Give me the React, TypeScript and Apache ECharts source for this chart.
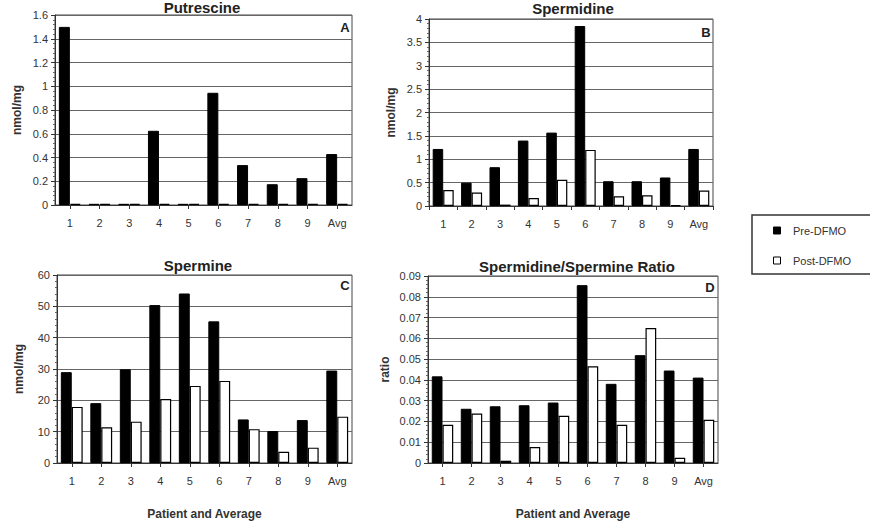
import React, { useEffect, useRef } from "react";
import * as echarts from "echarts";

const categories = ["1", "2", "3", "4", "5", "6", "7", "8", "9", "Avg"];

const putrescinePre = [1.5, 0.01, 0.01, 0.625, 0.01, 0.945, 0.336, 0.175, 0.226, 0.429];
const putrescinePost = [0.01, 0.01, 0.01, 0.01, 0.01, 0.01, 0.01, 0.01, 0.01, 0.01];

const spermidinePre = [1.22, 0.5, 0.83, 1.4, 1.57, 3.85, 0.53, 0.53, 0.61, 1.22];
const spermidinePost = [0.34, 0.29, 0.03, 0.17, 0.56, 1.2, 0.21, 0.23, 0.02, 0.33];

const sperminePre = [29.0, 19.1, 29.9, 50.4, 54.1, 45.2, 13.9, 10.2, 13.7, 29.5];
const sperminePost = [17.9, 11.4, 13.2, 20.4, 24.6, 26.2, 10.8, 3.6, 4.9, 14.8];

const ratioPre = [0.0417, 0.0261, 0.0273, 0.0278, 0.0291, 0.0856, 0.0381, 0.0519, 0.0445, 0.0411];
const ratioPost = [0.0184, 0.0238, 0.0011, 0.0077, 0.0227, 0.0466, 0.0184, 0.065, 0.0025, 0.0208];

const panelTitles = ["Putrescine", "Spermidine", "Spermine", "Spermidine/Spermine Ratio"];
const panelLetters = ["A", "B", "C", "D"];
const yNames = ["nmol/mg", "nmol/mg", "nmol/mg", "ratio"];
const yMax = [1.6, 4, 60, 0.09];
const yInterval = [0.2, 0.5, 10, 0.01];
const xAxisName = "Patient and Average";
const seriesNames = ["Pre-DFMO", "Post-DFMO"];

const FONT = "Liberation Sans, Arial, sans-serif";

export default function App() {
  const ref = useRef<HTMLDivElement>(null);
  useEffect(() => {
    if (!ref.current) return;
    const chart = echarts.init(ref.current, null, { renderer: "svg" });

    const grids = [
      { left: 55, top: 15, width: 297, height: 190 },
      { left: 429, top: 19, width: 284, height: 187 },
      { left: 57, top: 275, width: 295, height: 192 },
      { left: 428, top: 276, width: 290, height: 192 },
    ];
    const titlePos = [
      { x: 202, y: 0 },
      { x: 573, y: 1 },
      { x: 198, y: 258 },
      { x: 577, y: 259 },
    ];
    const letterPos = [
      { x: 345, y: 27 },
      { x: 706, y: 32 },
      { x: 345, y: 285 },
      { x: 710, y: 287 },
    ];
    const alignLabel = [true, false, true, true];
    const preData = [putrescinePre, spermidinePre, sperminePre, ratioPre];
    const postData = [putrescinePost, spermidinePost, sperminePost, ratioPost];

    const option: any = {
      animation: false,
      backgroundColor: "#fff",
      textStyle: { fontFamily: FONT },
      title: panelTitles.map((t, i) => ({
        text: t,
        left: titlePos[i].x,
        top: titlePos[i].y,
        textAlign: "center",
        padding: 0,
        textStyle: { fontFamily: FONT, fontSize: 15, fontWeight: "bold", color: "#222" },
      })),
      legend: seriesNames.map((n, i) => ({
        data: [
          i === 0
            ? { name: n, itemStyle: { color: "#000", borderColor: "#000", borderWidth: 1 } }
            : { name: n, itemStyle: { color: "#fff", borderColor: "#000", borderWidth: 1 } },
        ],
        left: 773,
        top: i === 0 ? 225 : 255,
        padding: 0,
        icon: "path://M0,0H10V10H0Z",
        itemWidth: 22,
        itemHeight: 7,
        textStyle: { fontFamily: FONT, fontSize: 11, color: "#333" },
        selectedMode: false,
      })),
      grid: grids.map((g) => ({
        ...g,
        show: true,
        borderColor: "#444",
        borderWidth: 1,
        backgroundColor: "transparent",
      })),
      xAxis: grids.map((_, i) => ({
        type: "category",
        gridIndex: i,
        data: categories,
        name: i >= 2 ? xAxisName : "",
        nameLocation: "middle",
        nameGap: 45,
        nameTextStyle: { fontFamily: FONT, fontSize: 12, fontWeight: "bold", color: "#333" },
        axisLine: { lineStyle: { color: "#333", width: 1 } },
        axisTick: { show: true, alignWithLabel: alignLabel[i], length: 4, lineStyle: { color: "#333" } },
        axisLabel: { fontFamily: FONT, fontSize: 11, color: "#333", margin: 12 },
        splitLine: { show: false },
      })),
      yAxis: grids.map((_, i) => ({
        type: "value",
        gridIndex: i,
        min: 0,
        max: yMax[i],
        interval: yInterval[i],
        name: yNames[i],
        nameLocation: "middle",
        nameRotate: 90,
        nameGap: i === 3 ? 37 : 32,
        nameTextStyle: { fontFamily: FONT, fontSize: 12, fontWeight: "bold", color: "#333" },
        axisLine: { show: true, lineStyle: { color: "#333", width: 1 } },
        axisTick: { show: true, length: 4, lineStyle: { color: "#333" } },
        minorTick: { show: true, splitNumber: 5, length: 2, lineStyle: { color: "#666" } },
        axisLabel: { fontFamily: FONT, fontSize: 11, color: "#333", margin: 7 },
        splitLine: { show: true, lineStyle: { color: "#666", width: 1.2 } },
      })),
      series: grids.flatMap((_, i) => [
        {
          name: seriesNames[0],
          type: "bar",
          xAxisIndex: i,
          yAxisIndex: i,
          data: preData[i],
          barGap: "0%",
          barCategoryGap: "26%",
          itemStyle: { color: "#000", borderColor: "#000", borderWidth: 1 },
        },
        {
          name: seriesNames[1],
          type: "bar",
          xAxisIndex: i,
          yAxisIndex: i,
          data: postData[i],
          barGap: "0%",
          barCategoryGap: "26%",
          itemStyle: { color: "#fff", borderColor: "#000", borderWidth: 1.2 },
        },
      ]),
      graphic: [
        ...panelLetters.map((l, i) => ({
          type: "text",
          x: letterPos[i].x,
          y: letterPos[i].y,
          style: {
            text: l,
            fontFamily: FONT,
            fontSize: 13,
            fontWeight: "bold",
            fill: "#222",
            align: "center",
            verticalAlign: "middle",
          },
        })),
        {
          type: "rect",
          shape: { x: 752, y: 215, width: 130, height: 59 },
          style: { fill: "none", stroke: "#333", lineWidth: 1.5 },
          z: -1,
        },
      ],
    };
    chart.setOption(option);
    return () => chart.dispose();
  }, []);
  return (
    <div
      ref={ref}
      style={{ position: "absolute", left: 0, top: 0, width: 870, height: 521 }}
    />
  );
}
